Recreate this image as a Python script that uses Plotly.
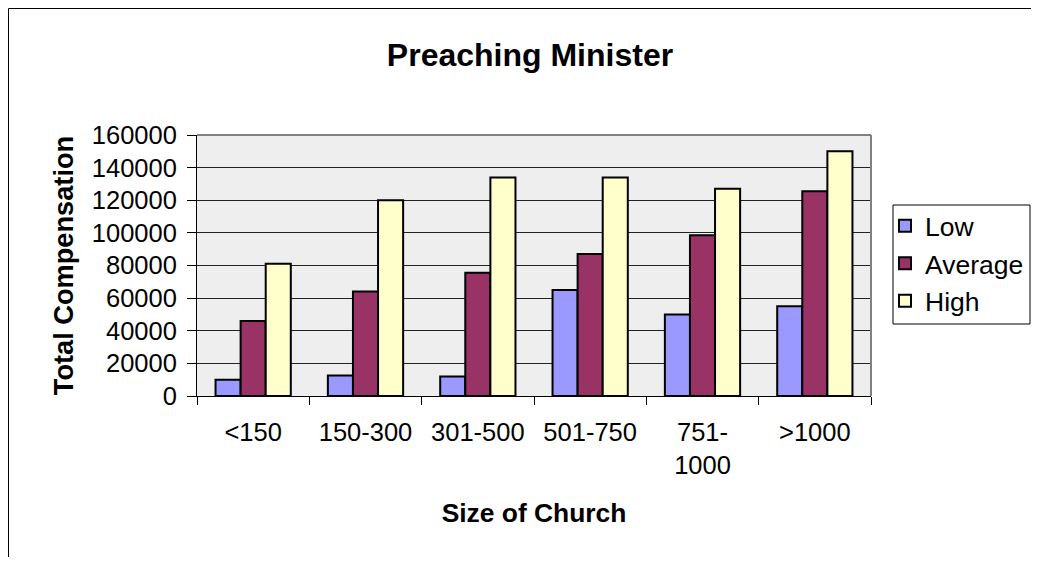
import plotly.graph_objects as go

categories = ["<150", "150-300", "301-500", "501-750", "751-<br>1000", ">1000"]
low = [10000, 12600, 12000, 65000, 50000, 55000]
average = [46000, 64000, 75500, 87000, 98500, 125500]
high = [81000, 120000, 134000, 134000, 127000, 150000]
y_ticks = [0, 20000, 40000, 60000, 80000, 100000, 120000, 140000, 160000]

OFF = 8  # default page body margin
PW, PH = 1039, 565
W, H = PW - 2 * OFF, PH - 2 * OFF   # fit inside the body without overflow
# plot area in page pixels
L, R, T, B = 197, 871, 135, 396

def px(x):
    return (x - L) / (R - L)

def py(y):
    return (B - y) / (B - T)

FONT = "Liberation Sans, Arial, sans-serif"

fig = go.Figure()
for name, vals, col in [("Low", low, "#9999FF"), ("Average", average, "#993366"), ("High", high, "#FFFFCC")]:
    fig.add_trace(go.Bar(
        x=categories, y=vals, name=name,
        marker=dict(color=col, line=dict(color="black", width=2)),
    ))

fig.update_layout(
    width=W, height=H,
    margin=dict(l=L - OFF, r=(PW - OFF) - R, t=T - OFF, b=(PH - OFF) - B, pad=0,
                autoexpand=False),
    paper_bgcolor="white",
    plot_bgcolor="#EEEEEE",
    barmode="group", bargap=0.33, bargroupgap=0,
    font=dict(family=FONT, color="black", size=25),
    title=dict(text="<b>Preaching Minister</b>", x=px(530), xref="paper", xanchor="center",
               y=1 - (55 - OFF) / H, yanchor="middle", font=dict(size=32, family=FONT, color="black")),
    legend=dict(x=px(885), y=py(202), xanchor="left", yanchor="top",
                xref="paper", yref="paper",
                borderwidth=0, bgcolor="rgba(0,0,0,0)",
                font=dict(size=26.5, family=FONT), tracegroupgap=0),
    showlegend=True,
)

fig.update_xaxes(
    type="category", tickson="boundaries", ticks="outside", ticklen=8, tickcolor="black",
    showline=True, linecolor="black", linewidth=1, showgrid=False,
    tickfont=dict(size=25.5, family=FONT), ticklabelstandoff=13,
    title=dict(text="<b>Size of Church</b>", font=dict(size=26.4, family=FONT), standoff=25),
    range=[-0.5, 5.5],
)
fig.update_yaxes(
    range=[0, 160000], tickvals=y_ticks, ticktext=[str(v) for v in y_ticks],
    ticks="outside", ticklen=9, tickcolor="black",
    showline=True, linecolor="black", linewidth=1,
    showgrid=True, gridcolor="#222222", gridwidth=1, zeroline=False,
    tickfont=dict(size=25.5, family=FONT), ticklabelstandoff=5,
    title=dict(text="<b>Total Compensation</b>", font=dict(size=27.2, family=FONT), standoff=10),
)

# plot area top/right border (gray)
fig.add_shape(type="line", xref="paper", yref="paper", x0=0, x1=1, y0=1, y1=1,
              line=dict(color="#808080", width=2), layer="above")
fig.add_shape(type="line", xref="paper", yref="paper", x0=1, x1=1, y0=0, y1=1,
              line=dict(color="#808080", width=2), layer="above")
# legend frame
fig.add_shape(type="rect", xref="paper", yref="paper", x0=px(893), x1=px(1030),
              y0=py(324), y1=py(205), line=dict(color="black", width=1),
              fillcolor="rgba(0,0,0,0)", layer="above")
# outer chart border (left and top visible), placed at the figure's edge
fig.add_shape(type="line", xref="paper", yref="paper", x0=px(OFF + 0.5), x1=px(OFF + 0.5),
              y0=py(OFF + 0.5), y1=py(PH),
              line=dict(color="black", width=1), layer="above")
fig.add_shape(type="line", xref="paper", yref="paper", x0=px(OFF + 0.5), x1=px(PW),
              y0=py(OFF + 0.5), y1=py(OFF + 0.5),
              line=dict(color="black", width=1), layer="above")

fig.write_html("out.html")
